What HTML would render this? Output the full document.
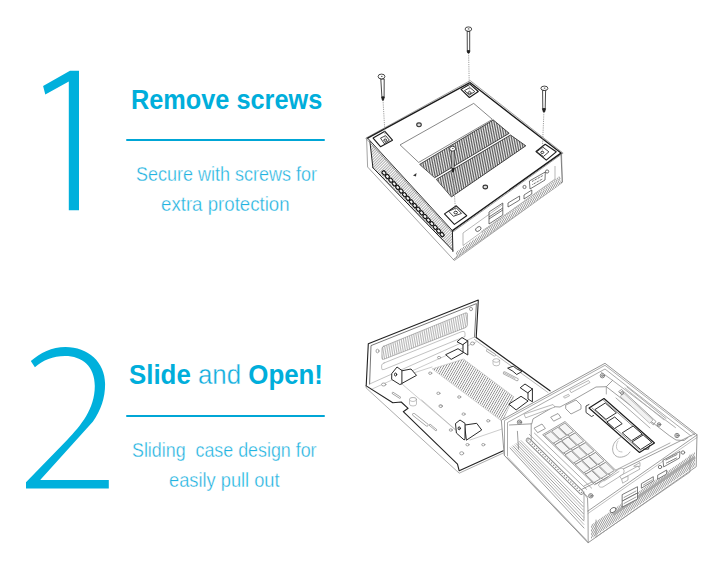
<!DOCTYPE html>
<html><head><meta charset="utf-8">
<style>
html,body{margin:0;padding:0;background:#fff;}
body{width:720px;height:572px;position:relative;overflow:hidden;font-family:"Liberation Sans",sans-serif;}
.t{position:absolute;white-space:nowrap;color:#00aedb;line-height:1;}
.h{font-weight:bold;font-size:27.5px;transform-origin:0 0;}
.s{font-size:20.3px;color:#22b2e0;transform-origin:0 0;-webkit-text-stroke:0.35px #fff;paint-order:fill stroke;}
.rule{position:absolute;left:126px;width:199px;height:2.5px;background:#00a6d6;border-radius:1px;}
svg{position:absolute;left:0;top:0;}
</style></head><body>
<svg width="720" height="572" viewBox="0 0 720 572">
<g fill="#00b0dc">
<path d="M79,70.8 L79,210.3 L68.8,210.3 L68.8,81.4 L45.3,94.6 L43.1,85.9 L70,70.8 Z"/>
<path d="M30.8,361.1 C40,353 52,347 65.5,347 C88,347 105.1,362 105.1,384 C105.1,398 101,410 93,421.5 L40.2,479.9 L108.8,479.9 L108.8,488.6 L26,488.6 L26,482.3 L67.1,440 C81,425.5 94.8,409 94.8,386 C94.8,366 82,355.9 65,355.9 C53,355.9 43,360 34.9,367.2 Z"/>
</g>
</svg>

<svg width="720" height="572" viewBox="0 0 720 572" id="d1">
<defs>
<pattern id="hatchL" patternUnits="userSpaceOnUse" width="2" height="4" patternTransform="rotate(45)">
<rect width="2" height="4" fill="#fff"/><rect width="0.8" height="4" fill="#9a9a9a"/></pattern>
<pattern id="vent" patternUnits="userSpaceOnUse" width="1.7" height="1.7" patternTransform="rotate(8)">
<rect width="1.7" height="1.7" fill="#ececec"/><rect width="0.75" height="1.7" fill="#444"/></pattern>
<pattern id="grayv" patternUnits="userSpaceOnUse" width="2" height="2" patternTransform="rotate(-35)">
<rect width="2" height="2" fill="#fff"/><rect width="0.7" height="2" fill="#aaa"/></pattern>
<pattern id="zig" patternUnits="userSpaceOnUse" width="1.8" height="3" patternTransform="rotate(-30)">
<rect width="1.8" height="3" fill="#fff"/><rect width="0.9" height="3" fill="#999"/></pattern>
</defs>
<g stroke-linejoin="round" stroke-linecap="round">
<!-- outer shell light -->
<path d="M366.6,138.3 L367.6,167 L454.3,260.5 L562.3,182.5 L561.5,153" fill="#fff" stroke="#999" stroke-width="0.9"/>
<!-- left face hatched -->
<path d="M369.9,141.5 L452.4,231.5 L452.9,250.5 L372.9,167.7 Z" fill="url(#hatchL)" stroke="none"/><path d="M372.9,167.7 L369.9,141.5" stroke="#222" stroke-width="1" fill="none"/>
<!-- right face -->
<path d="M452.4,230.6 L561,153.5 L562.2,182 L453.5,259.5" fill="#fff" stroke="#666" stroke-width="0.8"/>
<!-- top face -->
<path d="M469.9,80.8 L365.8,138.2 L452.4,232.3 L562.8,153.4 Z" fill="none" stroke="#888" stroke-width="0.8"/>
<path d="M469.9,82.6 L367.6,138.1 L452.4,230.6 L561,153.1 Z" fill="#fff" stroke="none"/>
<path d="M367.6,138.1 L469.9,82.6 L561,153.1 L452.4,230.6" fill="none" stroke="#1a1a1a" stroke-width="1.3"/>
<path d="M452.4,230.6 L367.6,138.1" fill="none" stroke="#333" stroke-width="1"/>
<path d="M452.4,230.6 L452.9,251.5" fill="none" stroke="#222" stroke-width="1"/>
<!-- light panel -->
<path d="M400.4,144.7 L473.7,103.4 L492.4,119.4 L419,162.2 Z" fill="#fff" stroke="#555" stroke-width="0.7"/>
<!-- vents -->
<path d="M420,164.2 L493.3,120 L509.2,133.3 L435,177.5 Z" fill="url(#vent)" stroke="#222" stroke-width="0.8"/>
<path d="M436.7,179.2 L510.5,135 L525.8,145.8 L451.7,196.7 Z" fill="url(#vent)" stroke="#222" stroke-width="0.8"/>
</g>


<!-- left face squares -->
<g fill="#f4f4f4" stroke="#111" stroke-width="1.15"><rect x="382.4" y="170.9" width="3.2" height="4" rx="1" transform="rotate(-40 384.0 172.9)"/><rect x="385.8" y="174.5" width="3.2" height="4" rx="1" transform="rotate(-40 387.4 176.5)"/><rect x="389.2" y="178.2" width="3.2" height="4" rx="1" transform="rotate(-40 390.8 180.2)"/><rect x="392.7" y="181.8" width="3.2" height="4" rx="1" transform="rotate(-40 394.3 183.8)"/><rect x="396.1" y="185.4" width="3.2" height="4" rx="1" transform="rotate(-40 397.7 187.4)"/><rect x="399.5" y="189.0" width="3.2" height="4" rx="1" transform="rotate(-40 401.1 191.0)"/><rect x="402.9" y="192.7" width="3.2" height="4" rx="1" transform="rotate(-40 404.5 194.7)"/><rect x="406.3" y="196.3" width="3.2" height="4" rx="1" transform="rotate(-40 407.9 198.3)"/><rect x="409.7" y="199.9" width="3.2" height="4" rx="1" transform="rotate(-40 411.3 201.9)"/><rect x="413.2" y="203.6" width="3.2" height="4" rx="1" transform="rotate(-40 414.8 205.6)"/><rect x="416.6" y="207.2" width="3.2" height="4" rx="1" transform="rotate(-40 418.2 209.2)"/><rect x="420.0" y="210.8" width="3.2" height="4" rx="1" transform="rotate(-40 421.6 212.8)"/><rect x="423.4" y="214.5" width="3.2" height="4" rx="1" transform="rotate(-40 425.0 216.5)"/><rect x="426.8" y="218.1" width="3.2" height="4" rx="1" transform="rotate(-40 428.4 220.1)"/><rect x="430.2" y="221.7" width="3.2" height="4" rx="1" transform="rotate(-40 431.8 223.7)"/><rect x="433.7" y="225.3" width="3.2" height="4" rx="1" transform="rotate(-40 435.3 227.3)"/><rect x="437.1" y="229.0" width="3.2" height="4" rx="1" transform="rotate(-40 438.7 231.0)"/><rect x="440.5" y="232.6" width="3.2" height="4" rx="1" transform="rotate(-40 442.1 234.6)"/></g>
<path d="M372.9,167.7 L452.9,250.5" stroke="#1a1a1a" stroke-width="1" fill="none"/>
<!-- right face details -->
<g fill="none" stroke="#999" stroke-width="0.7">
<path d="M463,233 L463,245.5 L555,179 L555,166"/>
<path d="M463,233 L502.8,204.5"/>
<ellipse cx="478.3" cy="229" rx="3" ry="2" transform="rotate(-35 478.3 229)" stroke="#3a3a3a"/>
<path d="M489,212 L502.8,203 L502.8,210 L489,219 Z" stroke="#3a3a3a"/>
<path d="M489,217 L502.8,208" stroke="#3a3a3a"/>
<path d="M489,219 L489,224 L502.8,215 L502.8,210" stroke="#3a3a3a"/>
<path d="M508,203 L519.6,196 L519.6,200 L508,207 Z" stroke="#3a3a3a"/>
<path d="M524,195 L531.8,190 L531.8,194 L524,199 Z" stroke="#3a3a3a"/>
<path d="M529.4,181 L545.3,172 L545,180 L530,189 Z" stroke="#3a3a3a"/>
<path d="M532,181.5 L543,175.5 M532.5,184.5 L542.5,179" stroke="#444" stroke-width="1" stroke-dasharray="0.9,0.8"/>
<circle cx="524.5" cy="187" r="1.6" stroke="#3a3a3a"/>
<circle cx="547.1" cy="171.5" r="1.6" stroke="#3a3a3a"/>
</g>
<path d="M456,257.5 L560.5,184 L560.5,178.5 L456,252 Z" fill="url(#zig)" stroke="none"/>
<path d="M482,232 L560.5,177" stroke="#aaa" stroke-width="2.6" fill="none" stroke-dasharray="1.1,0.9"/>
<!-- feet -->
<g fill="#fff" stroke="#1a1a1a" stroke-width="1.1" stroke-linejoin="round">
<path d="M461,89.4 L469.9,84.2 L478.3,91.5 L469.4,97.5 Z"/>
<path d="M464.5,90.6 L469.9,87.6 L474.8,91.6 L469.4,95 Z" stroke-width="0.8"/>
<path d="M373.1,138.1 L384.9,131.3 L392.5,140.2 L380.5,146.7 Z"/>
<path d="M380.5,138.1 L385.7,135.7 L389.4,140.2 L384.2,143.6 Z" stroke-width="0.8"/>
<path d="M444.5,213.9 L456.3,205.8 L466.7,215.7 L454.4,224.4 Z"/>
<path d="M448.7,211.3 L456.3,207.9 L461.5,213.4 L453.4,216.3 Z" stroke-width="0.8"/>
<path d="M536,151.5 L545.2,144.2 L556.2,151.8 L546.3,160.2 Z"/>
<path d="M536.8,151.8 L542.8,147.1 L548.9,151.8 L543.4,156.5 Z" stroke-width="0.8"/>
</g>
<g fill="#fff" stroke="#222" stroke-width="0.9">
<ellipse cx="469.5" cy="92.8" rx="1.6" ry="1.1"/>
<ellipse cx="385.3" cy="140.2" rx="1.5" ry="1.1"/>
<ellipse cx="455.7" cy="212.6" rx="1.8" ry="1.3"/>
<ellipse cx="542.3" cy="152.4" rx="1.5" ry="1.1"/>

</g>
<path d="M413,175.5 L416.5,173 L416,176.5 Z" fill="#333"/>
<g fill="#ddd" stroke="#333" stroke-width="1.1"><ellipse cx="419" cy="124.8" rx="2.3" ry="1.9"/><ellipse cx="485.3" cy="187" rx="2.3" ry="1.9"/></g>
<!-- dashed lines -->
<g stroke="#888" stroke-width="0.8" stroke-dasharray="1.2,1">
<path d="M383,100 L385.3,139"/>
<path d="M468.6,53 L469.4,92"/>
<path d="M453,172 L455.5,211"/>
<path d="M543.9,112 L542.3,151"/>
</g>
<!-- screws -->
<g stroke="#1a1a1a" stroke-width="0.8" fill="#fff">
<path d="M380.8,79 L381.9,97 L384.1,97 L384.2,79 Z"/>
<ellipse cx="381.5" cy="76.5" rx="3.4" ry="2.4"/>
<path d="M381.6,97 L384.4,97 L383.4,100.2 L382.4,100.2 Z" fill="#222"/>
<path d="M467.2,31.5 L467.3,50.8 L469.7,50.8 L469.7,31.5 Z"/>
<ellipse cx="468.4" cy="29.1" rx="3.3" ry="2.2"/>
<path d="M467,50.8 L470,50.8 L469.2,53 L467.8,53 Z" fill="#222"/>
<path d="M451.8,150.5 L452,168.7 L454,168.7 L454,150.5 Z"/>
<ellipse cx="452.6" cy="148.7" rx="3" ry="2.4"/>
<path d="M451.9,168.7 L454.1,168.7 L453.5,172 L452.5,172 Z" fill="#222"/>
<path d="M542.6,90.5 L542.8,108.7 L545.2,108.7 L545.6,90.5 Z"/>
<ellipse cx="544.4" cy="88.3" rx="3.5" ry="2.2"/>
<path d="M542.4,108.7 L545.6,108.7 L544.6,112 L543.4,112 Z" fill="#222"/>
</g>
<g fill="#555"><ellipse cx="381.8" cy="76.3" rx="0.9" ry="0.6"/><ellipse cx="468.6" cy="28.9" rx="0.9" ry="0.6"/><ellipse cx="452.8" cy="148.5" rx="0.9" ry="0.6"/><ellipse cx="544.6" cy="88.1" rx="0.9" ry="0.6"/></g>
</svg><div class="rule" style="top:138.5px"></div>

<svg width="720" height="572" viewBox="0 0 720 572" id="d2">
<defs>
<pattern id="wallv" patternUnits="userSpaceOnUse" width="1.8" height="4" patternTransform="rotate(8)">
<rect width="1.8" height="4" fill="#fff"/><rect width="0.7" height="4" fill="#a0a0a0"/></pattern>
<pattern id="basev" patternUnits="userSpaceOnUse" width="2.1" height="4" patternTransform="rotate(30)">
<rect width="2.1" height="4" fill="#fff"/><rect width="0.75" height="4" fill="#888"/></pattern>
</defs>
<g stroke-linejoin="round" stroke-linecap="round" fill="none">
<!-- cover back wall -->
<path d="M366.2,385.9 L368.3,343.8 L478.3,300.1 L476.2,337.6" stroke="#222" stroke-width="1.1"/>
<path d="M369.6,384 L371,345.6 L476.4,303.6 L474.5,337" stroke="#555" stroke-width="0.8"/>
<!-- vent stripe on wall -->
<path d="M383.5,346.3 L465.5,312.9 Q467.6,312.2 467.5,314.5 L467.3,325 Q467.2,327 465.3,327.7 L383.8,359.3 Q381.8,360 381.9,357.8 L382,348.5 Q382,346.9 383.5,346.3 Z" fill="url(#wallv)" stroke="#888" stroke-width="0.6"/>
<path d="M384,363 L462,331.5 Q465,330.6 465,333 L465,336.5 L384,369.5 Q381.5,370.5 381.6,368 L381.7,365 Q381.8,363.9 384,363 Z" stroke="#999" stroke-width="0.6"/>
<!-- fold line -->
<path d="M369.6,384 L474.5,337" stroke="#999" stroke-width="0.6"/>
<path d="M371,389.5 L476,342" stroke="#aaa" stroke-width="0.6"/>
<!-- base plate outline -->
<path d="M366.2,385.9 L392.8,402.7 L401.2,402 L408.1,408.3 L403.3,411.7 L457.5,464.2 L459.2,470.8 L503.3,450.8" stroke="#222" stroke-width="1.1"/>
<path d="M366.2,385.9 L366.2,388 L459.2,473.2 L503.3,453" stroke="#888" stroke-width="0.7"/>
<path d="M476.2,337.6 L550,390.8" stroke="#222" stroke-width="1.2"/>
<path d="M474.5,339.5 L548,392.5" stroke="#888" stroke-width="0.6"/>
<!-- inner recessed plate -->
<path d="M395,378 L455,429.5 L467.5,436 M421.7,400 L455,429.2" stroke="#aaa" stroke-width="0.6"/>
<path d="M412,373.5 L432,367 M470,440 L505,428" stroke="#aaa" stroke-width="0.6"/>
<!-- base vent -->
<path d="M432.6,368.8 L463.4,359 L513.7,396.7 L502.5,421.2 Z" fill="url(#basev)" stroke="#aaa" stroke-width="0.5"/>
<!-- holes -->
<g stroke="#999" stroke-width="0.9" fill="#fff">
<ellipse cx="430.2" cy="373.2" rx="1.6" ry="1.2"/><ellipse cx="438.4" cy="393.3" rx="1.6" ry="1.2"/>
<ellipse cx="459.2" cy="397" rx="1.6" ry="1.2"/><ellipse cx="440.6" cy="405.9" rx="1.6" ry="1.2"/>
<ellipse cx="463.6" cy="414.1" rx="1.6" ry="1.2"/><ellipse cx="488.2" cy="420.8" rx="1.6" ry="1.2"/>
<ellipse cx="439.1" cy="357.6" rx="1.6" ry="1.2"/><ellipse cx="440.8" cy="406.3" rx="1.6" ry="1.2"/>
<ellipse cx="450.8" cy="430" rx="1.6" ry="1.2"/><ellipse cx="467.5" cy="444.7" rx="1.6" ry="1.2"/>
<ellipse cx="483.3" cy="444.7" rx="1.6" ry="1.2"/><ellipse cx="461.7" cy="453.3" rx="2" ry="1.6"/>
<ellipse cx="383.7" cy="384.5" rx="2.2" ry="1.5"/><ellipse cx="472.5" cy="343.5" rx="2" ry="1.5"/>
<ellipse cx="377.5" cy="351" rx="1.5" ry="1.8"/><ellipse cx="471" cy="309" rx="1.5" ry="1.8"/>
</g>
<!-- small slots/standoffs -->
<g stroke="#999" stroke-width="0.6" fill="#fff">
<path d="M392.8,393 L399.8,397.5" stroke-width="2.2" stroke="#999"/><path d="M392.8,393 L399.8,397.5" stroke-width="1" stroke="#fff"/>
<path d="M413.7,414.5 L427,425" stroke-width="3" /><path d="M413.7,414.5 L427,425" stroke-width="1.6" stroke="#fff"/>
<path d="M430,425 L436,430" stroke-width="2.2"/><path d="M430,425 L436,430" stroke-width="1" stroke="#fff"/>
<path d="M409.5,399.5 L409.5,404 A3.5,2 0 0 0 416.5,404 L416.5,399.5 A3.5,2 0 0 0 409.5,399.5 Z"/>
<ellipse cx="413" cy="399.5" rx="3.5" ry="2"/>
<path d="M493,360.5 L493,364 A3.3,1.8 0 0 0 499.6,364 L499.6,360.5 Z"/><ellipse cx="496.3" cy="360.5" rx="3.3" ry="1.8"/>
<path d="M487.5,350.5 L494.5,355" stroke-width="3" stroke="#aaa"/><path d="M487.5,350.5 L494.5,355" stroke-width="1.4" stroke="#fff"/>
<path d="M504.5,373 L517,379.5" stroke-width="3.2" stroke="#aaa"/><path d="M504.5,373 L517,379.5" stroke-width="1.6" stroke="#fff"/>
<path d="M504.5,373 L515,378.5" stroke-width="0.7" stroke="#999"/>
</g>
<!-- brackets -->
<g stroke="#1e1e1e" stroke-width="0.95" fill="#fff" stroke-linejoin="round">
<path d="M399.8,371.2 L411,369 L416.5,375.4 L401.2,383.8 Z"/>
<path d="M392,373.3 L397,367 L401.9,370.5 L401.9,383.8 L399.8,384.5 L392,379.6 Z"/>
<ellipse cx="395.6" cy="374.5" rx="1.1" ry="1.5" fill="#fff"/>
<path d="M446,354.5 L458,348.7 L463.6,352.5 L451.5,359.2 Z"/>
<path d="M463,344.5 L463,352 L467.8,355 L467.8,341 Z"/>
<path d="M457.3,341.5 L462,337.6 L467.8,341 L463,344.5 Z"/>
<path d="M509.2,404 L521,396.3 L528.1,401 L516.5,409.7 Z"/>
<path d="M528,392.6 L528,399 L532.4,401.8 L532.4,389 Z"/>
<path d="M520.5,387.5 L525,384 L532.4,389 L528,392.6 Z"/>
<path d="M465,425 L476.7,423.3 L481.7,430 L466.7,440 Z"/>
<path d="M455.8,423.3 L460,420 L465,423.3 L465,438.3 L464.2,440 L456.7,433.3 Z"/>
<ellipse cx="459.2" cy="428.3" rx="1.1" ry="1.5"/>
<path d="M508,368 L513.2,366.2 L516.7,368.8 L522,371.5 L516.7,374.5 L513.2,371.5 Z" stroke-width="0.9"/>
</g>
<!-- main body silhouette -->
<path d="M501.7,420 L605,363.3 L697,434.7 L696.2,466.7 L588.2,542.7 L504.5,455.5 Z" fill="#fff" stroke="#8a8a8a" stroke-width="0.9"/>

<!-- main body details -->
<g fill="none" stroke-linejoin="round" stroke-linecap="round">
<path d="M504.5,455.5 L504.5,420.5 L605.0,365.3 L695.0,434.9" stroke="#959595" stroke-width="0.8"/>
<path d="M507.5,456.0 L507.5,422.5 L605.0,369.0 L691.0,436.0" stroke="#959595" stroke-width="0.8"/>
<path d="M509.5,425.0 L531.8,423.8 L533.0,418.9 L553.8,406.7 L560.0,407.0 L575.0,399.0 L596.0,387.0 L606.3,386.7 L612.6,380.4" stroke="#858585" stroke-width="0.8"/>
<path d="M606.3,386.7 L669.2,435.5 L676.0,440.0 L684.0,440.5 L688.0,437.5" stroke="#858585" stroke-width="0.8"/>
<path d="M612.6,380.4 L675.5,427.6" stroke="#959595" stroke-width="0.8"/>
<path d="M601.0,372.0 L612.6,380.4" stroke="#959595" stroke-width="0.8"/>
<path d="M580.7,489.9 L694.5,433.9" stroke="#858585" stroke-width="0.8"/>
<path d="M584.0,486.0 L670.0,443.0" stroke="#959595" stroke-width="0.8"/>
<path d="M580.7,489.9 L587.5,498.0 L588.0,511.0" stroke="#858585" stroke-width="0.8"/>
<path d="M504.5,455.5 L588.2,542.7" stroke="#959595" stroke-width="0.8"/>
<path d="M508.0,457.5 L586.0,539.5" stroke="#aaa" stroke-width="0.8"/>
<path d="M510.0,448.0 L584.0,528.0" stroke="#858585" stroke-width="0.8"/>
<path d="M511.6,446.9 L583.9,524.4" stroke="#b0b0b0" stroke-width="0.8"/>
<path d="M513.1,445.9 L583.7,520.9" stroke="#858585" stroke-width="0.8"/>
<path d="M514.7,444.8 L583.6,517.3" stroke="#b0b0b0" stroke-width="0.8"/>
<path d="M516.3,443.7 L583.4,513.7" stroke="#858585" stroke-width="0.8"/>
<path d="M517.9,442.6 L583.3,510.1" stroke="#b0b0b0" stroke-width="0.8"/>
<path d="M519.4,441.6 L583.1,506.6" stroke="#858585" stroke-width="0.8"/>
<path d="M521.0,440.5 L583.0,503.0" stroke="#b0b0b0" stroke-width="0.8"/>
<path d="M531.2,440.0 L588.0,497.0" stroke="#aaa" stroke-width="0.8"/>
<path d="M517.4,431.3 L518.5,449.1" stroke="#858585" stroke-width="0.8"/>
<path d="M531.2,423.8 L531.2,440.0" stroke="#858585" stroke-width="0.8"/>
<path d="M584.0,492.0 L584.0,520.0" stroke="#959595" stroke-width="0.8"/>
<path d="M528.0,440.0 L581.5,492.5" stroke="#858585" stroke-width="4.6"/>
<path d="M528.0,440.0 L581.5,492.5" stroke="#fff" stroke-width="3"/>
<g fill="#8a8a8a" stroke="none"><circle cx="528.0" cy="440.0" r="0.75"/><circle cx="530.1" cy="442.1" r="0.75"/><circle cx="532.3" cy="444.2" r="0.75"/><circle cx="534.4" cy="446.3" r="0.75"/><circle cx="536.6" cy="448.4" r="0.75"/><circle cx="538.7" cy="450.5" r="0.75"/><circle cx="540.8" cy="452.6" r="0.75"/><circle cx="543.0" cy="454.7" r="0.75"/><circle cx="545.1" cy="456.8" r="0.75"/><circle cx="547.3" cy="458.9" r="0.75"/><circle cx="549.4" cy="461.0" r="0.75"/><circle cx="551.5" cy="463.1" r="0.75"/><circle cx="553.7" cy="465.2" r="0.75"/><circle cx="555.8" cy="467.3" r="0.75"/><circle cx="558.0" cy="469.4" r="0.75"/><circle cx="560.1" cy="471.5" r="0.75"/><circle cx="562.2" cy="473.6" r="0.75"/><circle cx="564.4" cy="475.7" r="0.75"/><circle cx="566.5" cy="477.8" r="0.75"/><circle cx="568.7" cy="479.9" r="0.75"/><circle cx="570.8" cy="482.0" r="0.75"/><circle cx="572.9" cy="484.1" r="0.75"/><circle cx="575.1" cy="486.2" r="0.75"/><circle cx="577.2" cy="488.3" r="0.75"/><circle cx="579.4" cy="490.4" r="0.75"/><circle cx="581.5" cy="492.5" r="0.75"/></g>
<path d="M543.0,434.5 L565.0,421.5 L617.0,471.5 L595.0,484.5 Z" fill="#fff" stroke="#858585" stroke-width="0.8"/>
<path d="M534.4,433.1 L591.6,488.1" stroke="#959595" stroke-width="0.8"/>
<path d="M529.4,434.4 L586.6,489.4" stroke="#959595" stroke-width="0.8"/>
<g stroke="#808080" stroke-width="0.8" fill="#f6f6f6"><path d="M544.9,435.0 L550.9,431.5 L559.4,439.7 L553.5,443.2 Z" /><path d="M553.5,443.2 L555.5,444.5 L561.0,441.2" fill="none"/><path d="M552.0,430.8 L557.9,427.3 L566.5,435.6 L560.5,439.1 Z" /><path d="M560.5,439.1 L562.5,440.3 L568.0,437.1" fill="none"/><path d="M559.0,426.7 L564.9,423.1 L573.5,431.4 L567.6,434.9 Z" /><path d="M567.6,434.9 L569.6,436.1 L575.1,432.9" fill="none"/><path d="M555.1,444.8 L561.1,441.3 L569.6,449.5 L563.7,453.0 Z" /><path d="M563.7,453.0 L565.7,454.3 L571.2,451.0" fill="none"/><path d="M562.2,440.6 L568.1,437.1 L576.7,445.4 L570.7,448.9 Z" /><path d="M570.7,448.9 L572.7,450.1 L578.2,446.9" fill="none"/><path d="M569.2,436.5 L575.1,432.9 L583.7,441.2 L577.8,444.7 Z" /><path d="M577.8,444.7 L579.8,445.9 L585.3,442.7" fill="none"/><path d="M565.3,454.6 L571.2,451.1 L579.8,459.3 L573.9,462.8 Z" /><path d="M573.9,462.8 L575.9,464.1 L581.4,460.8" fill="none"/><path d="M572.3,450.4 L578.3,446.9 L586.9,455.2 L580.9,458.7 Z" /><path d="M580.9,458.7 L582.9,459.9 L588.4,456.7" fill="none"/><path d="M579.4,446.3 L585.3,442.8 L593.9,451.0 L588.0,454.5 Z" /><path d="M588.0,454.5 L590.0,455.8 L595.5,452.5" fill="none"/><path d="M575.5,464.4 L581.4,460.9 L590.0,469.1 L584.1,472.6 Z" /><path d="M584.1,472.6 L586.1,473.9 L591.6,470.6" fill="none"/><path d="M582.5,460.2 L588.5,456.7 L597.1,465.0 L591.1,468.5 Z" /><path d="M591.1,468.5 L593.1,469.7 L598.6,466.5" fill="none"/><path d="M589.6,456.1 L595.5,452.5 L604.1,460.8 L598.2,464.3 Z" /><path d="M598.2,464.3 L600.2,465.5 L605.7,462.3" fill="none"/><path d="M585.7,474.2 L591.6,470.7 L600.2,478.9 L594.3,482.4 Z" /><path d="M594.3,482.4 L596.3,483.7 L601.8,480.4" fill="none"/><path d="M592.7,470.0 L598.7,466.5 L607.2,474.8 L601.3,478.3 Z" /><path d="M601.3,478.3 L603.3,479.5 L608.8,476.3" fill="none"/><path d="M599.8,465.9 L605.7,462.3 L614.3,470.6 L608.3,474.1 Z" /><path d="M608.3,474.1 L610.3,475.3 L615.8,472.1" fill="none"/></g>
<path d="M534.4,428.0 L542.0,424.0 L545.4,428.5 L538.0,432.5 Z" fill="#fff" stroke="#858585" stroke-width="0.8"/>
<path d="M551.0,417.0 L558.0,413.5 L561.0,417.5 L554.0,421.0 Z" fill="#fff" stroke="#858585" stroke-width="0.8"/>
<path d="M566.0,405.0 L576.0,400.0 L581.0,405.0 L581.0,409.0 L571.0,414.0 L566.0,409.0 Z" fill="#fff" stroke="#858585" stroke-width="0.8"/>
<path d="M589.0,408.0 L604.0,398.5 L654.5,443.0 L639.5,452.5 Z" fill="#fff" stroke="#1a1a1a" stroke-width="1.1"/>
<path d="M591.8,407.8 L640.3,450.5" stroke="#444" stroke-width="0.6"/>
<path d="M603.5,400.3 L652.0,443.1" stroke="#444" stroke-width="0.6"/>
<g stroke="#1a1a1a" stroke-width="0.9" fill="#fff"><path d="M595.2,409.4 L605.3,403.0 L616.4,412.8 L606.3,419.2 Z" /><path d="M607.2,421.7 L614.7,417.0 L622.2,423.7 L614.7,428.4 Z" /><path d="M622.6,432.6 L633.1,426.0 L642.2,434.0 L631.7,440.6 Z" /><path d="M632.4,441.7 L643.2,434.9 L651.8,442.4 L641.0,449.3 Z" /></g>
<path d="M589,404.5 L586,406 L586,412.5 L591.5,416.5 L593.5,415.5" stroke="#333" stroke-width="0.9"/>
<path d="M643.5,449.2 L648.5,449.1 L649.5,445.4" stroke="#333" stroke-width="0.9"/>
<path d="M622,437 C612,440 610,452 616,456 C620,459 628,456 630,452" stroke="#999" stroke-width="0.8"/>
<path d="M618,441 C615,446 616,452 622,452" stroke="#aaa" stroke-width="0.7"/>
<path d="M618.9,391.4 L621.5,389.5 L656.0,421.5 L653.5,424.5 Z" stroke="#858585" stroke-width="0.8"/>
<path d="M620.5,396.0 L624.0,393.5 L653.0,420.0 L650.0,423.0 Z" fill="#f2f2f2" stroke="#959595" stroke-width="0.6"/>
<path d="M627.0,387.0 L666.0,418.5" stroke="#959595" stroke-width="0.8"/>
<path d="M616.0,398.0 L650.0,428.0" stroke="#959595" stroke-width="0.8"/>
<path d="M625.0,388.0 L664.0,420.0" stroke="#aaa" stroke-width="0.8"/>
<path d="M606.3,386.7 L606.3,394.0" stroke="#959595" stroke-width="0.8"/>
<g stroke="#777" stroke-width="0.9" fill="#fff"><circle cx="519.5" cy="422.2" r="2.2"/><circle cx="519.5" cy="422.2" r="0.9"/><circle cx="602.4" cy="375.7" r="2.2"/><circle cx="602.4" cy="375.7" r="0.9"/><circle cx="677" cy="435.5" r="2.2"/><circle cx="677" cy="435.5" r="0.9"/><circle cx="590.8" cy="495.8" r="2.2"/><circle cx="590.8" cy="495.8" r="0.9"/><circle cx="659" cy="424.5" r="1.8"/><circle cx="659" cy="424.5" r="0.7"/><circle cx="622" cy="393" r="1.4"/></g>
<g stroke="#999" stroke-width="0.7" fill="#fff"><path d="M524.4,414.0 L553.0,404.5 L555.0,407.0 L526.0,417.7 Z" /><path d="M570.0,390.0 L588.5,380.5 L590.0,382.5 L571.5,392.5 Z" /><path d="M563.8,396.5 L568.5,394.3 L569.5,395.8 L565.0,398.0 Z" /><path d="M600,483 C597,485 599,488 603,487 L622,475 C626,472 624,466 619,469 Z"/><path d="M604,481 L619,471.5"/><path d="M620.0,476.0 L638.0,466.0 L640.0,469.0 L622.0,479.0 Z" /><path d="M622.0,479.0 L628.0,476.0 L628.0,480.0 L623.0,483.0 Z" /><path d="M634.0,466.0 L640.0,462.5 L640.0,466.0 Z" /></g>
<path d="M588.0,511.0 L697.0,435.0" stroke="#858585" stroke-width="0.8"/>
<path d="M588.0,513.5 L697.0,437.5" stroke="#959595" stroke-width="0.6"/>
<path d="M588.0,511.0 L588.2,542.7" stroke="#858585" stroke-width="0.8"/>
<path d="M591.0,539.0 L695.0,466.0 L695.0,452.0 L591.0,525.0 Z" fill="url(#zig)" stroke="none"/>
<path d="M614.0,514.0 L694.0,458.0" stroke="#aaa" stroke-width="3" stroke-dasharray="1.2,0.9"/>
<g stroke="#666" stroke-width="0.85" fill="#fff"><path d="M596,520 L596,537 L690,472 L690,455" stroke="#999" fill="none"/><ellipse cx="613" cy="510" rx="3.2" ry="2.2" transform="rotate(-35 613 510)"/><path d="M622.5,494.5 L637.5,486.7 L637.5,493.0 L622.5,501.0 Z" /><path d="M622.5,501.0 L637.5,493.0 L637.5,499.0 L622.5,507.0 Z" /><path d="M641.7,483.5 L653.3,476.7 L653.3,481.0 L641.7,488.0 Z" /><path d="M658.0,475.0 L666.7,470.0 L666.7,474.0 L658.0,479.0 Z" /><path d="M663.3,460.0 L680.0,451.5 L679.5,458.0 L664.0,466.7 Z" /><circle cx="660" cy="467" r="1.7"/><circle cx="683" cy="452.5" r="1.7"/></g>
<path d="M624.0,497.5 L636.0,491.0" stroke="#777" stroke-width="0.7"/>
<path d="M624.0,503.5 L636.0,497.0" stroke="#777" stroke-width="0.7"/>
<path d="M643.5,485.0 L652.0,480.0" stroke="#777" stroke-width="0.7"/>
<path d="M666.0,460.0 L677.0,454.5" stroke="#666" stroke-width="0.9" stroke-dasharray="0.9,0.8"/>
<path d="M666.5,463.0 L676.5,458.0" stroke="#666" stroke-width="0.9" stroke-dasharray="0.9,0.8"/>
</g>
</g>
</svg>
<div class="rule" style="top:414.7px"></div>
<div class="t h" id="h1" style="left:131px;top:85.9px;transform:scaleX(0.92)">Remove screws</div>
<div class="t s" id="s1a" style="left:135.5px;top:163.6px;transform:scaleX(0.887)">Secure with screws for</div>
<div class="t s" id="s1b" style="left:161.3px;top:193.6px;transform:scaleX(0.92)">extra protection</div>
<div class="t h" id="h2" style="left:128.5px;top:361px;transform:scaleX(0.94)">Slide <span style="font-weight:normal;-webkit-text-stroke:0.35px #fff;paint-order:fill stroke;color:#12aede">and</span> Open!</div>
<div class="t s" id="s2a" style="left:132.2px;top:440.2px;transform:scaleX(0.88)">Sliding&nbsp; case design for</div>
<div class="t s" id="s2b" style="left:168.8px;top:470.2px;transform:scaleX(0.90)">easily pull out</div>
</body></html>
